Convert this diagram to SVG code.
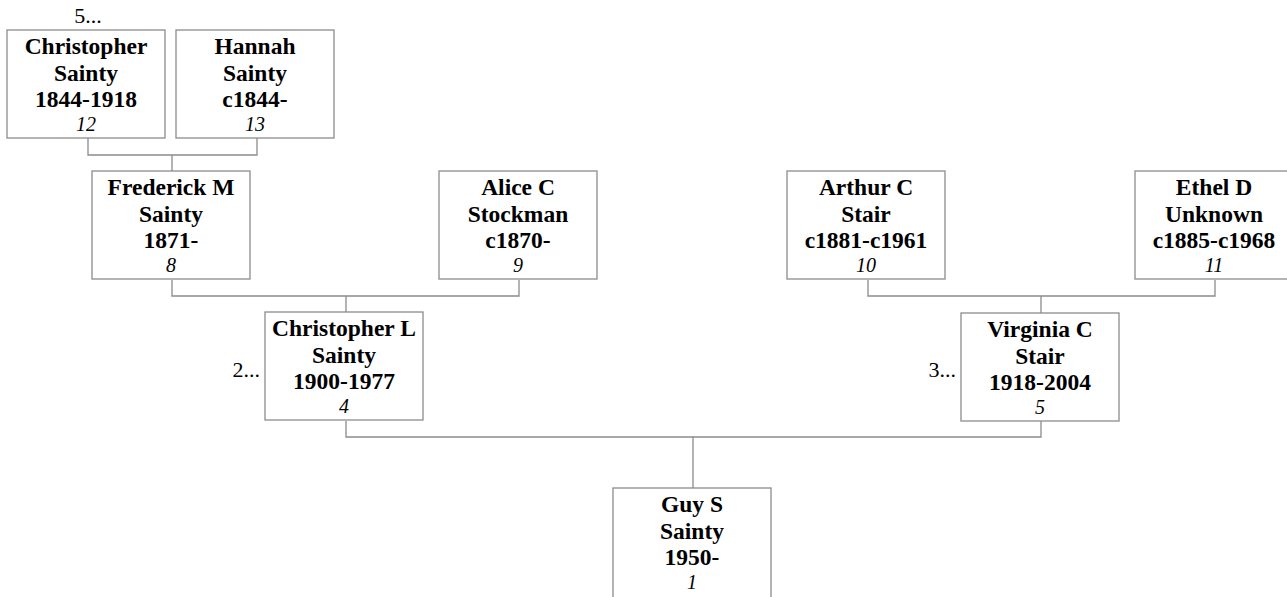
<svg xmlns="http://www.w3.org/2000/svg" width="1287" height="597" viewBox="0 0 1287 597">
<style>
.box{fill:#fff;stroke:#8c8c8c;stroke-width:1.3}
.n{font-family:"Liberation Serif","Times New Roman",serif;font-weight:bold;font-size:23.5px;fill:#000;text-anchor:middle}
.i{font-family:"Liberation Serif","Times New Roman",serif;font-style:italic;font-size:20px;fill:#000;text-anchor:middle}
.m{font-family:"Liberation Serif","Times New Roman",serif;font-size:22px;fill:#000}
.c{fill:none;stroke:#8c8c8c;stroke-width:1.3}
</style>
<rect width="1287" height="597" fill="#fff"/>
<g id="connectors">
<path class="c" d="M88 138V155H257V138M172 155V171"/>
<path class="c" d="M172 280V296H519V280M346 296V312"/>
<path class="c" d="M868 280V296H1215V280M1041 296V313"/>
<path class="c" d="M346 421V437H1041V421M693 437V488"/>
</g>
<text class="m" x="88" y="23" text-anchor="middle">5...</text>
<text class="m" x="260" y="377" text-anchor="end">2...</text>
<text class="m" x="956" y="377" text-anchor="end">3...</text>
<g id="p12">
<rect class="box" x="7" y="30" width="158" height="108"/>
<text class="n" x="86" y="54">Christopher</text>
<text class="n" x="86" y="80.5">Sainty</text>
<text class="n" x="86" y="107">1844-1918</text>
<text class="i" x="86" y="130.5">12</text>
</g>
<g id="p13">
<rect class="box" x="176" y="30" width="158" height="108"/>
<text class="n" x="255" y="54">Hannah</text>
<text class="n" x="255" y="80.5">Sainty</text>
<text class="n" x="255" y="107">c1844-</text>
<text class="i" x="255" y="130.5">13</text>
</g>
<g id="p8">
<rect class="box" x="92" y="171" width="158" height="108"/>
<text class="n" x="171" y="195">Frederick M</text>
<text class="n" x="171" y="221.5">Sainty</text>
<text class="n" x="171" y="248">1871-</text>
<text class="i" x="171" y="271.5">8</text>
</g>
<g id="p9">
<rect class="box" x="439" y="171" width="158" height="108"/>
<text class="n" x="518" y="195">Alice C</text>
<text class="n" x="518" y="221.5">Stockman</text>
<text class="n" x="518" y="248">c1870-</text>
<text class="i" x="518" y="271.5">9</text>
</g>
<g id="p10">
<rect class="box" x="787" y="171" width="158" height="108"/>
<text class="n" x="866" y="195">Arthur C</text>
<text class="n" x="866" y="221.5">Stair</text>
<text class="n" x="866" y="248">c1881-c1961</text>
<text class="i" x="866" y="271.5">10</text>
</g>
<g id="p11">
<rect class="box" x="1135" y="171" width="158" height="108"/>
<text class="n" x="1214" y="195">Ethel D</text>
<text class="n" x="1214" y="221.5">Unknown</text>
<text class="n" x="1214" y="248">c1885-c1968</text>
<text class="i" x="1214" y="271.5">11</text>
</g>
<g id="p4">
<rect class="box" x="265" y="312" width="158" height="108"/>
<text class="n" x="344" y="336">Christopher L</text>
<text class="n" x="344" y="362.5">Sainty</text>
<text class="n" x="344" y="389">1900-1977</text>
<text class="i" x="344" y="412.5">4</text>
</g>
<g id="p5">
<rect class="box" x="961" y="313" width="158" height="108"/>
<text class="n" x="1040" y="337">Virginia C</text>
<text class="n" x="1040" y="363.5">Stair</text>
<text class="n" x="1040" y="390">1918-2004</text>
<text class="i" x="1040" y="413.5">5</text>
</g>
<g id="p1">
<rect class="box" x="613" y="488" width="158" height="115"/>
<text class="n" x="692" y="512">Guy S</text>
<text class="n" x="692" y="538.5">Sainty</text>
<text class="n" x="692" y="565">1950-</text>
<text class="i" x="692" y="588.5">1</text>
</g>
</svg>
